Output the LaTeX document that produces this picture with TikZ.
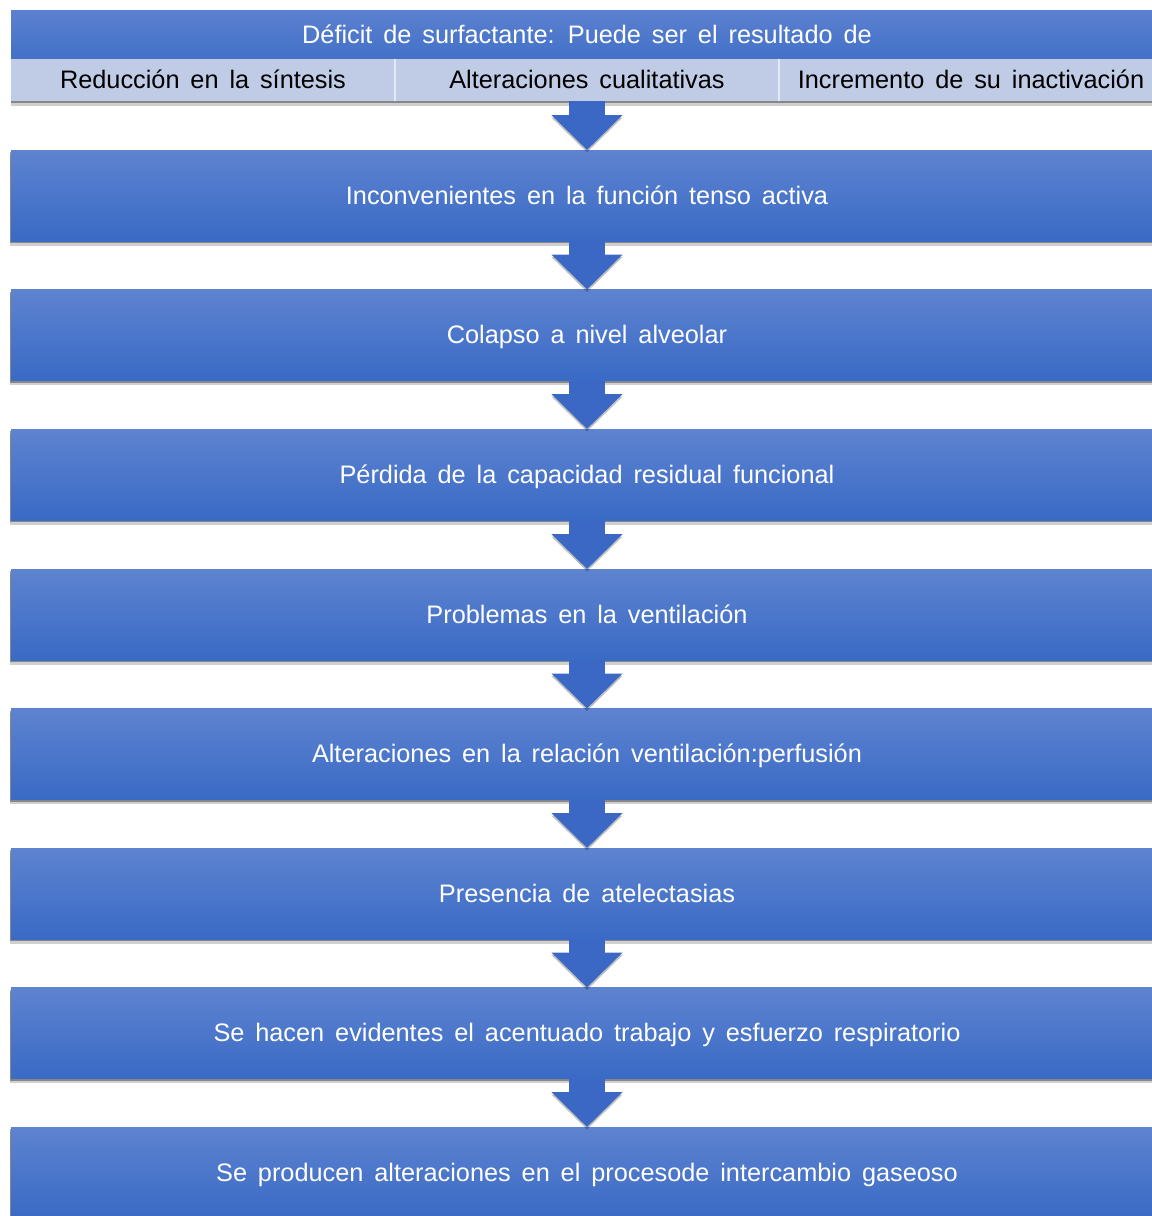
\documentclass[tikz,border=0pt]{standalone}
\usepackage{fontspec}
\setmainfont{Liberation Sans}[WordSpace=1.55]
\usetikzlibrary{arrows.meta, positioning, shadows}

\definecolor{boxtop}{RGB}{94,131,208}
\definecolor{boxbot}{RGB}{57,106,197}
\definecolor{headtop}{RGB}{92,128,207}
\definecolor{headbot}{RGB}{66,113,200}
\definecolor{celllight}{RGB}{192,203,230}
\definecolor{arrowblue}{RGB}{58,104,196}

\begin{document}
\begin{tikzpicture}[
    every node/.style={font=\fontsize{14.4}{17}\selectfont, outer sep=0pt,
        text height=13pt, text depth=3pt},
    softshadow/.style={
        drop shadow={shadow xshift=-0.02cm, shadow yshift=-0.04cm, opacity=0.5, fill=black!75},
        drop shadow={shadow xshift=-0.02cm, shadow yshift=-0.09cm, opacity=0.25, fill=black!75}},
    stepbox/.style={rectangle, minimum width=23.04cm, minimum height=1.82cm, text=white,
        top color=boxtop, bottom color=boxbot, softshadow},
    header/.style={rectangle, minimum width=23.04cm, minimum height=0.98cm, text=white,
        top color=headtop, bottom color=headbot},
    cause/.style={rectangle, minimum width=7.68cm, minimum height=0.84cm, inner sep=0pt,
        fill=celllight, text=black,
        drop shadow={shadow xshift=0cm, shadow yshift=-0.04cm, opacity=0.5, fill=black!75},
        drop shadow={shadow xshift=0cm, shadow yshift=-0.09cm, opacity=0.25, fill=black!75}},
    divider/.style={white, opacity=0.6, line width=0.6pt},
    arrow/.style={draw=arrowblue, line width=0.72cm, -{Triangle[length=0.7cm, width=1.38cm]},
        preaction={draw=black, opacity=0.25, transform canvas={yshift=-0.05cm}}}
]

\useasboundingbox (0,0) rectangle (23.04,-24.32);
\clip (0,0) rectangle (23.04,-24.32);

% ============ CAUSES (TOP) ============
\node[header] (deficit) at (11.74, -0.69) {Déficit de surfactante: Puede ser el resultado de};
\node[cause] (reduc) at (4.06, -1.60) {Reducción en la síntesis};
\node[cause] (cualit) at (11.74, -1.60) {Alteraciones cualitativas};
\node[cause] (inact) at (19.42, -1.60) {Incremento de su inactivación};

\draw[divider] (reduc.north east) -- (reduc.south east);
\draw[divider] (cualit.north east) -- (cualit.south east);

% ============ CHAIN OF CONSEQUENCES ============
\node[stepbox] (tenso) at (11.74, -3.91) {Inconvenientes en la función tenso activa};
\node[stepbox] (colapso) at (11.74, -6.70) {Colapso a nivel alveolar};
\node[stepbox] (crf) at (11.74, -9.49) {Pérdida de la capacidad residual funcional};
\node[stepbox] (ventil) at (11.74, -12.29) {Problemas en la ventilación};
\node[stepbox] (vq) at (11.74, -15.08) {Alteraciones en la relación ventilación:perfusión};
\node[stepbox] (atelec) at (11.74, -17.87) {Presencia de atelectasias};
\node[stepbox] (trabajo) at (11.74, -20.66) {Se hacen evidentes el acentuado trabajo y esfuerzo respiratorio};
\node[stepbox] (gas) at (11.74, -23.45) {Se producen alteraciones en el procesode intercambio gaseoso};

% Arrows
\draw[arrow] (cualit.south) -- (tenso.north);
\draw[arrow] (tenso.south) -- (colapso.north);
\draw[arrow] (colapso.south) -- (crf.north);
\draw[arrow] (crf.south) -- (ventil.north);
\draw[arrow] (ventil.south) -- (vq.north);
\draw[arrow] (vq.south) -- (atelec.north);
\draw[arrow] (atelec.south) -- (trabajo.north);
\draw[arrow] (trabajo.south) -- (gas.north);

\end{tikzpicture}
\end{document}
